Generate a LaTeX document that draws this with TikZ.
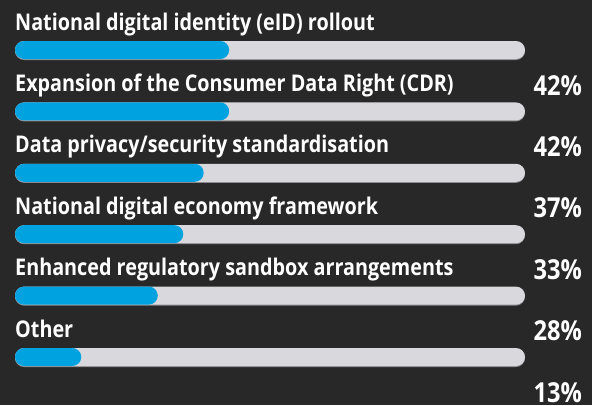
\documentclass[tikz,border=0pt]{standalone}
\usepackage{fontspec}
\newfontfamily\barfont{Open Sans}[FakeStretch=0.86]
\usetikzlibrary{%
		positioning%
	}

\definecolor{chartbg}{HTML}{282828}
\definecolor{barblue}{HTML}{00A2E0}
\definecolor{bargray}{HTML}{D9D8DD}
\definecolor{barshade}{HTML}{8C8C90}

\begin{document}
\begin{tikzpicture}[x=1pt, y=-1pt,
		itemlabel/.style={text=white, inner sep=0pt, anchor=base west, font=\barfont\bfseries\fontsize{23}{27}\selectfont},
		pctlabel/.style={text=white, inner sep=0pt, anchor=base east, font=\barfont\bfseries\fontsize{27.5}{32}\selectfont}]
			% Background
			\fill[chartbg] (0,0) rectangle (592,405);
			\useasboundingbox (0,0) rectangle (592,405);
			
			% Bars
			\foreach \pct/\lbl [count=\i, evaluate=\i as \y using {41+61.4*(\i-1)}] in {%
					42/{National digital identity (eID) rollout},
					42/{Expansion of the Consumer Data Right (CDR)},
					37/{Data privacy/security standardisation},
					33/{National digital economy framework},
					28/{Enhanced regulatory sandbox arrangements},
					13/{Other}}	{
				\node[itemlabel] (item\i) at (15,\y-11) {\lbl};
				\fill[barshade, rounded corners=9pt] (15,\y+1) rectangle (525,\y+19);
				\fill[bargray, rounded corners=9pt] (15,\y) rectangle (525,\y+18);
				\fill[barblue, rounded corners=9pt] (15,\y) rectangle ({15+5.1*\pct},\y+18);
				\node[pctlabel] (pct\i) at (582,\y+54) {\pct\%};
			}
		\end{tikzpicture}
\end{document}
